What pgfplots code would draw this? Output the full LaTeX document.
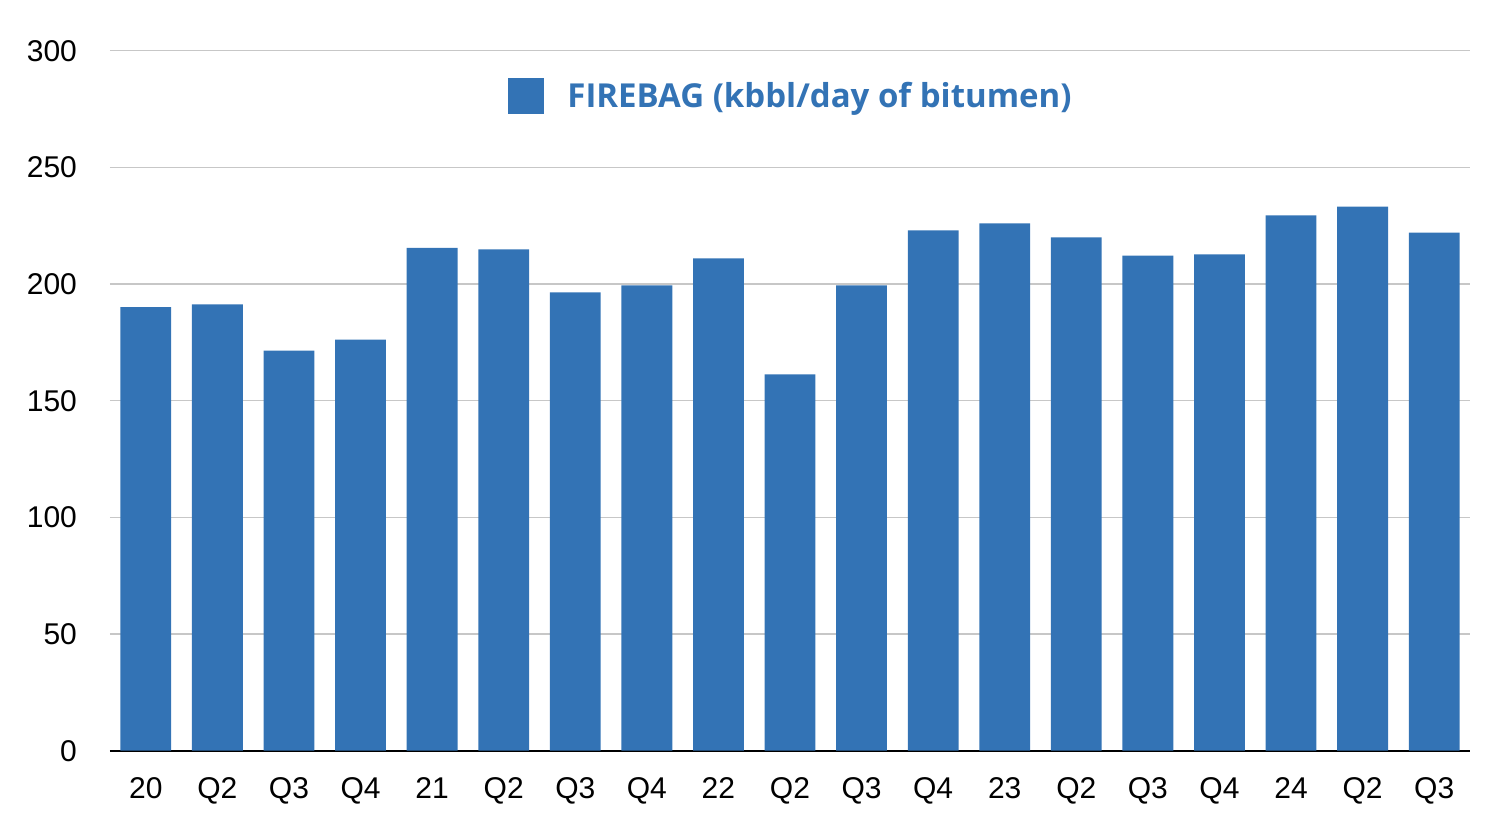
\documentclass[border=0pt]{standalone}
\usepackage{fontspec}
\setmainfont{Liberation Sans}
\newfontfamily\legfont{Open Sans}
\usepackage{pgfplots}
\pgfplotsset{compat=1.18}
\definecolor{barblue}{RGB}{51,115,181}
\begin{document}
\begin{tikzpicture}
\useasboundingbox (-55pt,-38.6pt) rectangle (695pt,375.35pt);
\begin{axis}[
  at={(0,0)}, anchor=south west,
  scale only axis, width=680pt, height=350pt,
  ymin=0, ymax=300, ytick={0,50,...,300},
  xmin=-0.5, xmax=18.5,
  xtick={0,...,18},
  xticklabels={20,Q2,Q3,Q4,21,Q2,Q3,Q4,22,Q2,Q3,Q4,23,Q2,Q3,Q4,24,Q2,Q3},
  ybar, bar width=0.71,
  ymajorgrids, grid style={black!22, line width=0.75pt},
  axis x line*=bottom, axis y line*=left,
  x axis line style={black, line width=1pt, -},
  y axis line style={draw=none},
  major tick length=0pt, tick style={draw=none},
  /pgf/number format/assume math mode=true,
  tick label style={font=\fontsize{15}{17}\selectfont, text=black},
  yticklabel style={xshift=-13pt},
  xticklabel style={yshift=-10pt},
  legend style={at={(0.5,0.935)}, anchor=center, draw=none, fill=none,
    font=\legfont\fontsize{16.5}{19}\selectfont\bfseries, text=barblue,
    nodes={inner sep=0pt}, column sep=11.5pt},
  legend image code/.code={\fill[barblue] (0pt,-9pt) rectangle (18pt,9pt);},
]
\addplot[fill=barblue, draw=none] coordinates {
(0,190.1) (1,191.3) (2,171.5) (3,176.2) (4,215.5) (5,214.8) (6,196.4) (7,199.4)
(8,211.0) (9,161.3) (10,199.4) (11,223.0) (12,226.0) (13,220.0) (14,212.2)
(15,212.7) (16,229.4) (17,233.2) (18,222.0)};
\legend{FIREBAG (kbbl/day of bitumen)}
\end{axis}
\end{tikzpicture}
\end{document}
